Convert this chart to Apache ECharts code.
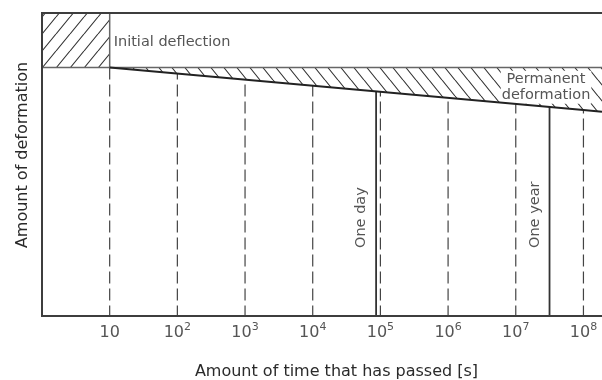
<!DOCTYPE html>
<html>
<head>
<meta charset="utf-8">
<script src="https://cdn.jsdelivr.net/npm/echarts@6/dist/echarts.min.js"></script>
<style>
  html, body { margin: 0; padding: 0; background: #fff; }
  #chart { width: 602px; height: 380px; }
</style>
</head>
<body>
<div id="chart"></div>
<script>
// Elapsed time in seconds (logarithmic) against deformation (arbitrary units, growing downward)
const decadeTicks = [10, 1e2, 1e3, 1e4, 1e5, 1e6, 1e7, 1e8];
const timeMin = 1;
const timeMax = 1.88e8;
const deformMin = 0;
const deformMax = 100;

// Deflection reached immediately on loading
const initialDeflection = 18;
const loadStart = 10;

// Creep line: deformation keeps growing with time
const creepTime = [10, 1e8, 1.88e8];
const creepDeform = [18, 32, 32.6];

// Reference durations
const markerTime = [86400, 31536000];
const markerLabel = ['One day', 'One year'];

// Annotation texts
const initialLabel = 'Initial deflection';
const permanentLabel = 'Permanent\ndeformation';
const permanentLabelTime = 2.8e7;
const xTitle = 'Amount of time that has passed [s]';
const yTitle = 'Amount of deformation';

const FONT = '"DejaVu Sans", sans-serif';
const FRAME = '#3d3d3d';
const TEXT = '#555';

// Diagonal hatch tile (dir > 0 draws "/", otherwise "\")
function hatchTile(w, h, dir) {
  const c = document.createElement('canvas');
  c.width = w; c.height = h;
  const g = c.getContext('2d');
  g.fillStyle = '#fff';
  g.fillRect(0, 0, w, h);
  g.strokeStyle = '#333';
  g.lineWidth = 1.1;
  g.beginPath();
  for (let k = -1; k <= 1; k++) {
    if (dir > 0) { g.moveTo(k * w, h); g.lineTo(k * w + w, 0); }
    else { g.moveTo(k * w, 0); g.lineTo(k * w + w, h); }
  }
  g.stroke();
  return { image: c, repeat: 'repeat' };
}
const hatchUp = hatchTile(14, 17, 1);
const hatchDown = hatchTile(13, 16, -1);

const creepData = creepTime.map((t, i) => [t, creepDeform[i]]);

const chart = echarts.init(document.getElementById('chart'), null, { renderer: 'canvas' });

chart.setOption({
  animation: false,
  backgroundColor: '#fff',
  grid: { left: 42, top: 13, bottom: 64, right: 0, containLabel: false },
  xAxis: {
    type: 'log',
    logBase: 10,
    min: timeMin,
    max: timeMax,
    axisLine: { show: false },
    axisTick: { show: false },
    splitLine: { show: false },
    axisLabel: {
      margin: 6,
      showMinLabel: false,
      showMaxLabel: false,
      formatter: function (v) {
        const e = Math.log10(v);
        const r = Math.round(e);
        if (Math.abs(e - r) > 1e-6 || r < 1 || r > 8) return '';
        return r === 1 ? '{b|10}' : '{b|10}{s|' + r + '}';
      },
      rich: {
        b: { fontFamily: FONT, fontSize: 16, lineHeight: 16, padding: [5, 0, 0, 0], color: TEXT },
        s: { fontFamily: FONT, fontSize: 11, lineHeight: 11, verticalAlign: 'top', color: TEXT }
      }
    }
  },
  yAxis: {
    type: 'value',
    min: deformMin,
    max: deformMax,
    inverse: true,
    show: false
  },
  graphic: [{
    type: 'text',
    x: 22.8,
    y: 155,
    rotation: Math.PI / 2,
    style: { text: yTitle, fontFamily: FONT, fontSize: 16, fill: '#2a2a2a', align: 'center', verticalAlign: 'middle' }
  }, {
    type: 'text',
    x: 336.5,
    y: 372,
    style: { text: xTitle, fontFamily: FONT, fontSize: 16, fill: '#2a2a2a', align: 'center', verticalAlign: 'middle' }
  }],
  series: [
    {
      // Hatched block of the initial deflection
      type: 'custom',
      coordinateSystem: 'cartesian2d',
      data: [[loadStart, initialDeflection]],
      renderItem: function (params, api) {
        const tl = api.coord([timeMin, deformMin]);
        const br = api.coord([api.value(0), api.value(1)]);
        return {
          type: 'group',
          children: [
            { type: 'rect', shape: { x: tl[0], y: tl[1], width: br[0] - tl[0], height: br[1] - tl[1] },
              style: { fill: hatchUp, stroke: null } },
            { type: 'line', shape: { x1: br[0], y1: tl[1], x2: br[0], y2: br[1] },
              style: { stroke: '#666', lineWidth: 1.5 } },
            { type: 'text', x: br[0] + 4, y: (tl[1] + br[1]) / 2 + 2,
              style: { text: initialLabel, fontFamily: FONT, fontSize: 14.5, fill: TEXT, align: 'left', verticalAlign: 'middle' } }
          ]
        };
      }
    },
    {
      // Dashed lines at each decade
      type: 'custom',
      coordinateSystem: 'cartesian2d',
      data: decadeTicks.map(t => [t]),
      renderItem: function (params, api) {
        const p0 = api.coord([api.value(0), initialDeflection]);
        const p1 = api.coord([api.value(0), deformMax]);
        return { type: 'line', shape: { x1: p0[0], y1: p0[1], x2: p1[0], y2: p1[1] },
          style: { stroke: '#444', lineWidth: 1.2, lineDash: [12, 5] } };
      }
    },
    {
      // One day / one year
      type: 'custom',
      coordinateSystem: 'cartesian2d',
      data: markerTime.map((t, i) => [t, i]),
      renderItem: function (params, api) {
        const p0 = api.coord([api.value(0), initialDeflection]);
        const p1 = api.coord([api.value(0), deformMax]);
        return {
          type: 'group',
          children: [
            { type: 'line', shape: { x1: p0[0], y1: p0[1], x2: p1[0], y2: p1[1] },
              style: { stroke: '#333', lineWidth: 1.8 } },
            { type: 'text', x: p1[0] - 14.7, y: p1[1] - 68, rotation: Math.PI / 2,
              style: { text: markerLabel[api.value(1)], fontFamily: FONT, fontSize: 14.5, fill: TEXT, align: 'left', verticalAlign: 'middle' } }
          ]
        };
      }
    },
    {
      // Hatched band of permanent deformation
      type: 'custom',
      coordinateSystem: 'cartesian2d',
      data: [[0]],
      renderItem: function (params, api) {
        const pts = [api.coord([creepTime[0], initialDeflection]), api.coord([timeMax, initialDeflection])];
        for (let i = creepData.length - 1; i >= 0; i--) pts.push(api.coord(creepData[i]));
        const lab = api.coord([permanentLabelTime, initialDeflection]);
        return {
          type: 'group',
          children: [
            { type: 'polygon', shape: { points: pts }, style: { fill: hatchDown, stroke: null } },
            { type: 'text', x: lab[0], y: lab[1] + 19.8, z2: 10,
              style: { text: permanentLabel, fontFamily: FONT, fontSize: 14.5, lineHeight: 16, fill: TEXT,
                align: 'center', verticalAlign: 'middle', backgroundColor: '#fff', padding: [1, 1, 0, 1] } }
          ]
        };
      }
    },
    {
      // Level of the initial deflection
      type: 'custom',
      coordinateSystem: 'cartesian2d',
      data: [[initialDeflection]],
      renderItem: function (params, api) {
        const a = api.coord([timeMin, api.value(0)]);
        const b = api.coord([timeMax, api.value(0)]);
        return { type: 'line', shape: { x1: a[0], y1: a[1], x2: b[0], y2: b[1] },
          style: { stroke: '#666', lineWidth: 1.5 } };
      }
    },
    {
      // Creep line
      type: 'line',
      data: creepData,
      symbol: 'none',
      clip: false,
      lineStyle: { color: '#222', width: 2 }
    },
    {
      // Plot frame: top, left and bottom
      type: 'custom',
      coordinateSystem: 'cartesian2d',
      data: [[0]],
      renderItem: function (params, api) {
        const tl = api.coord([timeMin, deformMin]);
        const tr = api.coord([timeMax, deformMin]);
        const bl = api.coord([timeMin, deformMax]);
        const br = api.coord([timeMax, deformMax]);
        return { type: 'polyline', shape: { points: [[tr[0] + 2, tr[1]], tl, bl, [br[0] + 2, br[1]]] },
          style: { stroke: FRAME, lineWidth: 2, fill: null } };
      }
    }
  ]
});
</script>
</body>
</html>
